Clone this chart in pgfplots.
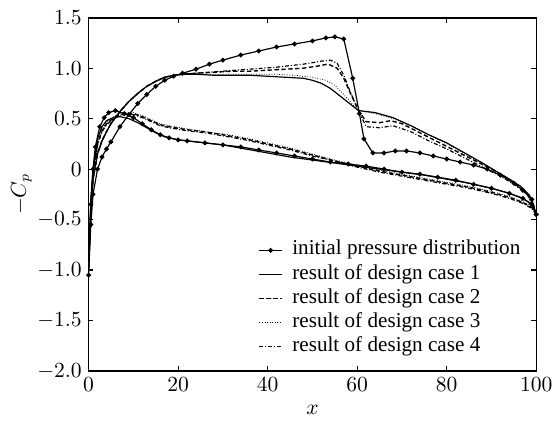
\documentclass[border=0pt]{standalone}
\usepackage{fontspec}
\setmainfont{Liberation Serif}
\usepackage{pgfplots}
\pgfplotsset{compat=1.18}
\usetikzlibrary{calc}

% upper and lower surface in one loop: TE lower -> LE -> TE upper
\pgfplotstableread{
x y
100 -0.45
99 -0.35
97 -0.29
94 -0.24
90 -0.19
86 -0.15
82 -0.11
78 -0.08
74 -0.05
70 -0.03
66 0.0
62 0.03
58 0.05
54 0.07
50 0.10
46 0.13
42 0.16
38 0.19
34 0.22
30 0.24
26 0.26
22 0.28
20 0.29
18 0.31
16 0.34
14 0.39
12 0.45
10 0.51
8 0.55
6 0.58
4.5 0.56
3.5 0.51
2.5 0.42
1.5 0.22
1 0.0
0.5 -0.35
0 -1.05
0.5 -0.55
1 -0.25
2 0.0
3 0.12
4 0.20
5 0.27
7 0.42
9 0.54
11 0.65
13 0.74
15 0.82
17 0.88
19 0.92
21 0.95
24 0.99
27 1.04
30 1.08
34 1.13
38 1.17
42 1.21
46 1.24
50 1.27
53 1.30
55 1.31
57 1.29
59 0.90
60.5 0.55
61.5 0.30
63.5 0.16
66 0.16
68.5 0.18
71 0.18
74 0.16
77 0.13
80 0.10
83 0.07
86 0.04
89 0.00
92 -0.06
95 -0.14
97 -0.21
99 -0.30
100 -0.45
}\initial

\pgfplotstableread{
x y
100 -0.45
99 -0.35
97 -0.29
94 -0.24
90 -0.19
85 -0.14
80 -0.10
75 -0.06
70 -0.03
65 0.00
60 0.03
55 0.06
50 0.09
45 0.12
40 0.16
35 0.20
30 0.24
26 0.26
22 0.28
20 0.29
17 0.32
15 0.36
13 0.41
11 0.46
9 0.50
7 0.52
5.5 0.51
4 0.48
3 0.42
2 0.30
1 0.0
0.5 -0.30
0 -1.00
0.5 -0.45
1 -0.10
2 0.15
3 0.28
4 0.37
5 0.45
7 0.57
9 0.67
11 0.75
13 0.82
15 0.87
17 0.91
19 0.93
21 0.94
24 0.94
28 0.93
32 0.93
36 0.93
40 0.92
44 0.91
48 0.90
50 0.88
52 0.85
54 0.80
56 0.73
58 0.66
60.3 0.58
64 0.56
68 0.51
72 0.43
76 0.34
80 0.26
84 0.16
88 0.06
91 -0.02
94 -0.10
96.5 -0.17
98.5 -0.26
100 -0.45
}\caseone

\pgfplotstableread{
x y
100 -0.45
99 -0.38
97 -0.33
94 -0.28
90 -0.23
85 -0.18
80 -0.14
75 -0.10
70 -0.06
65 -0.02
60 0.03
55 0.08
50 0.14
45 0.20
40 0.25
35 0.30
30 0.34
26 0.37
22 0.39
18 0.42
16 0.44
14 0.48
12 0.52
10 0.55
8 0.55
6 0.52
4 0.45
3 0.38
2 0.25
1 -0.05
0.5 -0.35
0 -1.00
0.5 -0.45
1 -0.10
2 0.15
3 0.28
4 0.37
5 0.45
7 0.57
9 0.67
11 0.75
13 0.82
15 0.87
17 0.91
19 0.93
21 0.94
24 0.95
28 0.96
32 0.97
36 0.97
40 0.98
44 0.99
48 1.00
51 1.02
53.5 1.04
55.5 1.00
57 0.90
58.5 0.75
60.3 0.58
62 0.47
65 0.46
67.5 0.48
70 0.45
74 0.36
78 0.27
82 0.18
86 0.09
90 0.00
94 -0.10
97 -0.20
99 -0.30
100 -0.45
}\casetwo

\pgfplotstableread{
x y
100 -0.45
99 -0.37
97 -0.32
94 -0.27
90 -0.22
85 -0.17
80 -0.13
75 -0.09
70 -0.05
65 -0.01
60 0.04
55 0.09
50 0.15
45 0.21
40 0.26
35 0.31
30 0.35
26 0.37
22 0.40
18 0.43
16 0.45
14 0.49
12 0.53
10 0.56
8 0.56
6 0.53
4 0.46
3 0.39
2 0.26
1 -0.04
0.5 -0.34
0 -1.00
0.5 -0.45
1 -0.10
2 0.15
3 0.28
4 0.37
5 0.45
7 0.57
9 0.67
11 0.75
13 0.82
15 0.87
17 0.91
19 0.93
21 0.94
24 0.94
30 0.94
36 0.94
42 0.94
46 0.93
50 0.91
53 0.88
55 0.83
57 0.74
59 0.64
60.3 0.58
64 0.55
68 0.50
72 0.43
76 0.34
80 0.25
84 0.15
88 0.05
92 -0.05
95 -0.13
98 -0.25
100 -0.45
}\casethree

\pgfplotstableread{
x y
100 -0.45
99 -0.39
97 -0.34
94 -0.29
90 -0.24
85 -0.19
80 -0.15
75 -0.11
70 -0.07
65 -0.03
60 0.02
55 0.08
50 0.13
45 0.19
40 0.24
35 0.29
30 0.33
26 0.36
22 0.38
18 0.41
16 0.43
14 0.47
12 0.51
10 0.54
8 0.54
6 0.51
4 0.44
3 0.37
2 0.24
1 -0.06
0.5 -0.36
0 -1.00
0.5 -0.45
1 -0.10
2 0.15
3 0.28
4 0.37
5 0.45
7 0.57
9 0.67
11 0.75
13 0.82
15 0.87
17 0.91
19 0.93
21 0.94
24 0.95
30 0.97
36 0.99
42 1.01
48 1.04
52 1.07
54 1.08
55.5 1.05
57 0.93
58.5 0.76
60.3 0.58
62 0.42
65 0.41
68 0.43
72 0.37
76 0.28
80 0.20
84 0.11
88 0.02
92 -0.07
95 -0.15
98 -0.25
100 -0.45
}\casefour

\begin{document}
\begin{tikzpicture}
\begin{axis}[
  scale only axis, width=227.5pt, height=179.5pt,
  xmin=0, xmax=100, ymin=-2, ymax=1.5,
  xtick={0,20,40,60,80,100},
  ytick={-2,-1.5,-1,-0.5,0,0.5,1,1.5},
  yticklabels={$-2.0$,$-1.5$,$-1.0$,$-0.5$,$0$,$0.5$,$1.0$,$1.5$},
  tick align=inside, major tick length=2.5pt,
  axis line style={line width=0.8pt},
  tick style={line width=0.6pt, black},
  tick label style={font=\fontsize{11}{13}\selectfont},
  label style={font=\fontsize{10.5}{12}\selectfont},
  xlabel={$x$}, ylabel={$-C_p$},
  ylabel style={yshift=-4pt},
  legend style={draw=none, fill=none, at={(0.366,0.388)}, anchor=north west,
    font=\fontsize{10.75}{12}\selectfont, row sep=0pt, column sep=4pt,
    nodes={inner sep=1pt, text height=7.5pt, text depth=2.75pt}},
  legend cell align=left,
  legend image code/.code={\draw[mark repeat=2,mark phase=2,#1] plot coordinates {(0cm,0cm) (0.2cm,0cm) (0.4cm,0cm)};},
  every axis plot/.append style={line width=0.6pt, black},
]
  \addplot[mark=*, mark size=0.9pt] table {\initial};
  \addlegendentry{initial pressure distribution}
  \addplot[solid] table {\caseone};
  \addlegendentry{result of design case 1}
  \addplot[dash pattern=on 2.2pt off 1.3pt, line width=0.7pt] table {\casetwo};
  \addlegendentry{result of design case 2}
  \addplot[dash pattern=on 0.4pt off 0.9pt, line width=0.4pt] table {\casethree};
  \addlegendentry{result of design case 3}
  \addplot[dash pattern=on 2pt off 1pt on 0.5pt off 1pt] table {\casefour};
  \addlegendentry{result of design case 4}
\end{axis}
\path ($(current axis.south west)+(-45pt,-26pt)$) rectangle ($(current axis.north east)+(7pt,9pt)$);
\end{tikzpicture}
\end{document}
